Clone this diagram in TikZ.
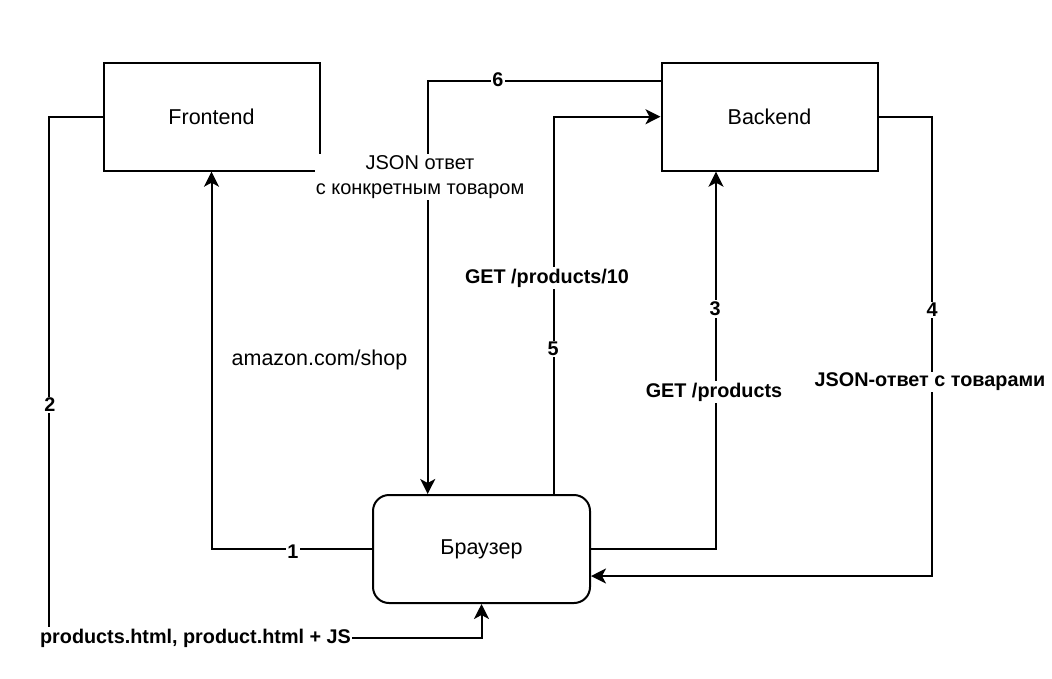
\documentclass[tikz,border=0pt]{standalone}
\usepackage{fontspec}
\setmainfont{Liberation Sans}
\usetikzlibrary{arrows.meta}
\tikzset{
  box/.style={draw, line width=2pt, fill=white, minimum width=216pt, minimum height=108pt, inner sep=0pt,
    font=\fontsize{21.5}{25}\selectfont},
  roundbox/.style={box, rounded corners=16pt},
  conn/.style={line width=2pt, -{Stealth[length=15pt, width=15pt, inset=4pt]}},
  num/.style={fill=white, inner sep=1.5pt, font=\fontsize{19.8}{22}\selectfont\bfseries},
  blab/.style={fill=white, inner sep=1.5pt, font=\fontsize{19.8}{22}\selectfont\bfseries},
  nlab/.style={fill=white, inner sep=1pt, align=center, font=\fontsize{21.5}{24.5}\selectfont},
}
\begin{document}
\begin{tikzpicture}[x=1pt, y=-1pt]
\useasboundingbox (0,0) rectangle (1052,678);
% nodes
\node[box] (frontend) at (211.5,116.7) {Frontend};
\node[box] (backend) at (769.5,116.7) {Backend};
\node[roundbox, minimum width=217pt, minimum height=108pt] (browser) at (481.5,549) {Браузер};
\coordinate (c2) at (49,638);
\coordinate (c4) at (932,576);
% connectors
\draw[conn] (browser.west) -| (frontend.south);
\draw[conn] (frontend.west) -| (c2) -| (browser.south);
\draw[conn] (browser.east) -| ([xshift=-53.5pt]backend.south);
\draw[conn] (backend.east) -| (c4) -- ([yshift=-27pt]browser.east);
\draw[conn] ([xshift=72pt]browser.north) |- (backend.west);
\draw[conn] ([yshift=35.7pt]backend.west) -| ([xshift=-53.8pt]browser.north);
% labels
\node[num] (n1) at (293,552) {1};
\node[nlab, fill=none] (l1) at (319.5,360) {amazon.com/shop};
\node[num] (n2) at (50,405) {2};
\node[blab] (l2) at (195.5,638) {products.html, product.html + JS};
\node[num] (n3) at (715,309) {3};
\node[blab] (l3) at (714,392) {GET /products};
\node[num] (n4) at (932,310) {4};
\node[blab] (l4) at (930,382) {JSON-ответ с товарами};
\node[num] (n5) at (553,349) {5};
\node[blab] (l5) at (547,278) {GET /products/10};
\node[num] (n6) at (498,80) {6};
\node[nlab, font=\fontsize{20}{24.5}\selectfont, inner ysep=2pt] (l6) at (420,177) {JSON ответ\\с конкретным товаром};
\end{tikzpicture}
\end{document}
